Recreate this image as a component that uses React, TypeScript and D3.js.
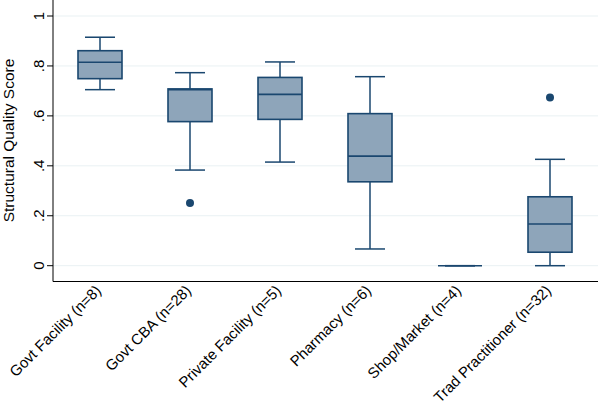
import React from "react";
import * as d3 from "d3";

const categories = [
  "Govt Facility (n=8)",
  "Govt CBA (n=28)",
  "Private Facility (n=5)",
  "Pharmacy (n=6)",
  "Shop/Market (n=4)",
  "Trad Practitioner (n=32)",
];
const lowerWhisker = [0.705, 0.383, 0.415, 0.067, 0, 0];
const q1 = [0.749, 0.577, 0.586, 0.336, 0, 0.054];
const median = [0.815, 0.705, 0.686, 0.439, 0, 0.167];
const q3 = [0.861, 0.708, 0.754, 0.609, 0, 0.276];
const upperWhisker = [0.915, 0.773, 0.816, 0.757, 0, 0.426];
const outliers: number[][] = [[], [0.251], [], [], [], [0.674]];
const yTicks = [0, 0.2, 0.4, 0.6, 0.8, 1];
const yTickLabels = ["0", ".2", ".4", ".6", ".8", "1"];
const yTitle = "Structural Quality Score";

const W = 598;
const H = 413;
const axisX = 53;
const axisY = 281.5;
const stroke = "#1a476f";
const fill = "#8ea5ba";
const grid = "#e9f1f3";
const font = "'Liberation Sans', Arial, sans-serif";

export default function App() {
  const y = d3.scaleLinear().domain([0, 1]).range([265.7, 16]);
  const x = d3.scalePoint<string>().domain(categories).range([100, 550]);
  const boxW = 44;
  const capW = 30;

  return (
    <svg
      width={W}
      height={H}
      style={{ position: "absolute", left: 0, top: 0, background: "#fff" }}
      fontFamily={font}
    >
      <rect x={0} y={0} width={W} height={H} fill="#fff" />
      {yTicks.map((t, i) => (
        <g key={"g" + i}>
          <line x1={axisX} x2={W} y1={y(t)} y2={y(t)} stroke={grid} strokeWidth={1} />
          <line x1={axisX - 6} x2={axisX} y1={y(t)} y2={y(t)} stroke="#000" strokeWidth={1} />
          <text
            transform={`translate(${axisX - 9.5},${y(t)}) rotate(-90)`}
            textAnchor="middle"
            fontSize={15}
            fill="#000"
          >
            {yTickLabels[i]}
          </text>
        </g>
      ))}
      <text
        transform={`translate(14,140.5) rotate(-90)`}
        textAnchor="middle"
        fontSize={15.5}
        fill="#000"
      >
        {yTitle}
      </text>
      {categories.map((c, i) => {
        const cx = x(c) as number;
        return (
          <g key={c}>
            <line x1={cx} x2={cx} y1={y(q3[i])} y2={y(upperWhisker[i])} stroke={stroke} strokeWidth={1.5} />
            <line x1={cx} x2={cx} y1={y(q1[i])} y2={y(lowerWhisker[i])} stroke={stroke} strokeWidth={1.5} />
            <line x1={cx - capW / 2} x2={cx + capW / 2} y1={y(upperWhisker[i])} y2={y(upperWhisker[i])} stroke={stroke} strokeWidth={1.5} />
            <line x1={cx - capW / 2} x2={cx + capW / 2} y1={y(lowerWhisker[i])} y2={y(lowerWhisker[i])} stroke={stroke} strokeWidth={1.5} />
            <rect
              x={cx - boxW / 2}
              y={y(q3[i])}
              width={boxW}
              height={y(q1[i]) - y(q3[i])}
              fill={fill}
              stroke={stroke}
              strokeWidth={1.6}
            />
            <line x1={cx - boxW / 2} x2={cx + boxW / 2} y1={y(median[i])} y2={y(median[i])} stroke={stroke} strokeWidth={1.6} />
            {outliers[i].map((o, j) => (
              <circle key={j} cx={cx} cy={y(o)} r={4} fill={stroke} />
            ))}
            <text
              transform={`translate(${cx + 2},${axisY + 10}) rotate(-45)`}
              textAnchor="end"
              fontSize={15}
              fill="#000"
            >
              {c}
            </text>
          </g>
        );
      })}
      <line x1={axisX} x2={axisX} y1={0} y2={axisY} stroke="#000" strokeWidth={1} />
      <line x1={axisX} x2={W} y1={axisY} y2={axisY} stroke="#000" strokeWidth={1} />
    </svg>
  );
}
